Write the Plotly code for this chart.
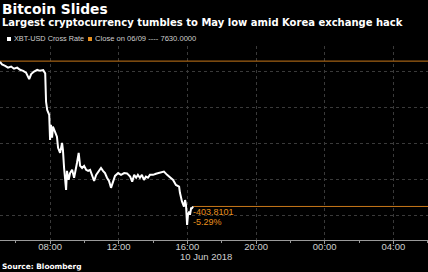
import plotly.graph_objects as go

# ---- data ----
times = [
    "2018-06-10 05:05", "2018-06-10 05:12", "2018-06-10 05:23", "2018-06-10 05:33",
    "2018-06-10 05:44", "2018-06-10 05:54", "2018-06-10 06:05", "2018-06-10 06:15",
    "2018-06-10 06:26", "2018-06-10 06:36", "2018-06-10 06:47", "2018-06-10 06:54",
    "2018-06-10 07:04", "2018-06-10 07:15", "2018-06-10 07:25", "2018-06-10 07:36",
    "2018-06-10 07:43", "2018-06-10 07:46", "2018-06-10 07:50", "2018-06-10 07:57",
    "2018-06-10 08:00", "2018-06-10 08:03", "2018-06-10 08:07", "2018-06-10 08:10",
    "2018-06-10 08:17", "2018-06-10 08:24", "2018-06-10 08:28", "2018-06-10 08:35",
    "2018-06-10 08:42", "2018-06-10 08:45", "2018-06-10 08:49", "2018-06-10 08:52",
    "2018-06-10 08:56", "2018-06-10 08:59", "2018-06-10 09:05", "2018-06-10 09:10",
    "2018-06-10 09:17", "2018-06-10 09:24", "2018-06-10 09:29", "2018-06-10 09:34",
    "2018-06-10 09:40", "2018-06-10 09:45", "2018-06-10 09:52", "2018-06-10 09:59",
    "2018-06-10 10:06", "2018-06-10 10:13", "2018-06-10 10:20", "2018-06-10 10:27",
    "2018-06-10 10:34", "2018-06-10 10:41", "2018-06-10 10:51", "2018-06-10 10:58",
    "2018-06-10 11:05", "2018-06-10 11:12", "2018-06-10 11:19", "2018-06-10 11:26",
    "2018-06-10 11:33", "2018-06-10 11:40", "2018-06-10 11:47", "2018-06-10 11:58",
    "2018-06-10 12:08", "2018-06-10 12:19", "2018-06-10 12:29", "2018-06-10 12:40",
    "2018-06-10 12:47", "2018-06-10 12:54", "2018-06-10 13:01", "2018-06-10 13:07",
    "2018-06-10 13:14", "2018-06-10 13:21", "2018-06-10 13:28", "2018-06-10 13:35",
    "2018-06-10 13:42", "2018-06-10 13:49", "2018-06-10 14:00", "2018-06-10 14:10",
    "2018-06-10 14:24", "2018-06-10 14:38", "2018-06-10 14:49", "2018-06-10 14:59",
    "2018-06-10 15:10", "2018-06-10 15:20", "2018-06-10 15:31", "2018-06-10 15:34",
    "2018-06-10 15:38", "2018-06-10 15:41", "2018-06-10 15:48", "2018-06-10 15:52",
    "2018-06-10 15:55", "2018-06-10 15:59", "2018-06-10 16:02", "2018-06-10 16:06",
    "2018-06-10 16:09", "2018-06-10 16:13", "2018-06-10 16:16", "2018-06-10 16:20",
]
prices = [
    7628, 7621, 7617, 7612,
    7615, 7609, 7612, 7606,
    7603, 7598, 7580, 7594,
    7601, 7606, 7603, 7605,
    7596, 7517, 7494, 7481,
    7411, 7453, 7417, 7448,
    7434, 7420, 7389, 7375,
    7403, 7383, 7333, 7306,
    7272, 7325, 7300, 7319,
    7328, 7306, 7333, 7347,
    7375, 7339, 7333, 7339,
    7328, 7325, 7328, 7314,
    7297, 7314, 7325, 7333,
    7325, 7319, 7306, 7297,
    7278, 7297, 7311, 7319,
    7314, 7319, 7318, 7309,
    7295, 7314, 7306, 7314,
    7306, 7314, 7300, 7309,
    7306, 7314, 7314, 7317,
    7319, 7323, 7314, 7306,
    7300, 7286, 7281, 7264,
    7250, 7240, 7226, 7244,
    7231, 7175, 7203, 7212,
    7203, 7221, 7221, 7226.1899,
]
prev_close = 7630.0
prev_close_label = "06/09"
series_name = "XBT-USD Cross Rate"
x_range = ["2018-06-10 05:05", "2018-06-11 06:01"]
y_range = [7133, 7672]

ORANGE = "#e8901e"
ORANGE_LINE = "#c8781a"
GRID = "#3a3a3a"
TXT = "#cfcfcf"
FONT = "Liberation Sans, Arial, sans-serif"
BOLD_FONT = "DejaVu Sans, Verdana, sans-serif"

last = prices[-1]
chg = last - prev_close
pct = chg / prev_close * 100

fig = go.Figure()

# previous close reference line (full width)
fig.add_trace(go.Scatter(
    x=x_range, y=[prev_close, prev_close], mode="lines",
    line=dict(color=ORANGE_LINE, width=1), hoverinfo="skip", showlegend=False))
# last value level line (from last point to right edge)
fig.add_trace(go.Scatter(
    x=[times[-1], x_range[1]], y=[last, last], mode="lines",
    line=dict(color=ORANGE_LINE, width=1), hoverinfo="skip", showlegend=False))
# main price series
fig.add_trace(go.Scatter(
    x=times, y=prices, mode="lines", name=series_name,
    line=dict(color="white", width=2), showlegend=False))


def py(p):
    """pixel row -> paper y (plot area spans rows 46..240)"""
    return (240 - p) / 194


annotations = [
    dict(text="<b>Bitcoin Slides</b>", xref="paper", yref="paper", x=0, y=py(8.5),
         xanchor="left", yanchor="middle", showarrow=False,
         font=dict(size=13.8, color="white", family=BOLD_FONT)),
    dict(text="<b>Largest cryptocurrency tumbles to May low amid Korea exchange hack</b>",
         xref="paper", yref="paper", x=0, y=py(23),
         xanchor="left", yanchor="middle", showarrow=False,
         font=dict(size=10, color="white", family=BOLD_FONT)),
    dict(text=series_name, xref="paper", yref="paper", x=12 / 428, y=py(39),
         xanchor="left", yanchor="middle", showarrow=False,
         font=dict(size=7.3, color=TXT, family=FONT)),
    dict(text=f"Close on {prev_close_label} ---- {prev_close:.4f}", xref="paper", yref="paper",
         x=93 / 428, y=py(39),
         xanchor="left", yanchor="middle", showarrow=False,
         font=dict(size=7.6, color=TXT, family=FONT)),
    dict(text="<b>Source: Bloomberg</b>", xref="paper", yref="paper", x=0, y=py(266.5),
         xanchor="left", yanchor="middle", showarrow=False,
         font=dict(size=7.4, color="white", family=BOLD_FONT)),
    dict(text="10 Jun 2018", xref="x", yref="paper", x="2018-06-10 16:00", y=py(256.5),
         xanchor="left", xshift=-9, yanchor="middle", showarrow=False,
         font=dict(size=9.5, color=TXT, family=FONT)),
    dict(text=f"{chg:.4f}", xref="x", yref="paper", x=times[-1], y=py(211.5),
         xanchor="left", xshift=-2, yanchor="middle", showarrow=False,
         font=dict(size=9, color=ORANGE, family=FONT)),
    dict(text=f"{pct:.2f}%", xref="x", yref="paper", x=times[-1], y=py(222),
         xanchor="left", xshift=-2, yanchor="middle", showarrow=False,
         font=dict(size=9, color=ORANGE, family=FONT)),
]

shapes = [
    dict(type="rect", xref="paper", yref="paper",
         x0=7 / 428, x1=11 / 428, y0=py(41), y1=py(37),
         fillcolor="white", line=dict(width=0)),
    dict(type="rect", xref="paper", yref="paper",
         x0=88 / 428, x1=92 / 428, y0=py(41), y1=py(37),
         fillcolor=ORANGE, line=dict(width=0)),
]

fig.update_layout(
    width=428, height=272,
    margin=dict(l=0, r=0, t=46, b=32),
    paper_bgcolor="black", plot_bgcolor="black",
    annotations=annotations, shapes=shapes,
    font=dict(family=FONT, color=TXT),
    xaxis=dict(
        type="date", range=x_range,
        tick0="2018-06-10 08:00", dtick=4 * 3600 * 1000, tickformat="%H:%M",
        showgrid=True, gridcolor=GRID, griddash="dot", gridwidth=1,
        showline=True, linecolor="#9a9a9a", linewidth=1,
        ticks="outside", ticklen=3, tickcolor="#9a9a9a",
        ticklabelstandoff=-5,
        tickfont=dict(size=9.5, color=TXT, family=FONT),
        minor=dict(dtick=2 * 3600 * 1000, tick0="2018-06-10 08:00", ticks="outside",
                   ticklen=2, tickcolor="#9a9a9a", showgrid=False),
        zeroline=False, fixedrange=True,
    ),
    yaxis=dict(
        range=y_range, dtick=100, tick0=7200,
        showgrid=True, gridcolor=GRID, griddash="dot", gridwidth=1,
        showticklabels=False, zeroline=False, showline=False, ticks="",
    ),
    showlegend=False,
)

fig.write_html("out.html")
